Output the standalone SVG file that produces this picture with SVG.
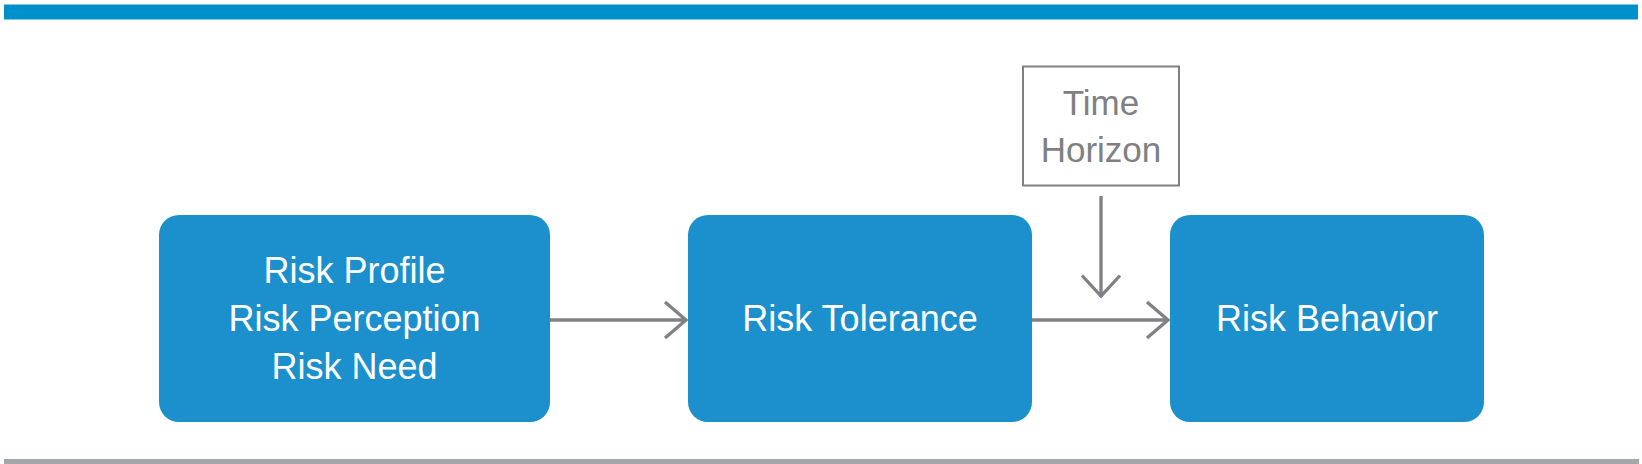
<svg xmlns="http://www.w3.org/2000/svg" width="1642" height="464" viewBox="0 0 1642 464">
  <defs>
    <style>
      .box { fill: #1b90cc; }
      .label { font-family: "Liberation Sans", Arial, sans-serif; font-size: 36px; fill: #ffffff; text-anchor: middle; }
      .side { font-family: "Liberation Sans", Arial, sans-serif; font-size: 35px; fill: #7f7f84; text-anchor: middle; }
      .conn { stroke: #808085; stroke-width: 3.3; fill: none; }
    </style>
  </defs>
  <rect x="0" y="0" width="1642" height="464" fill="#ffffff"/>
  <rect x="4" y="4.5" width="1634" height="15" fill="#0090cc"/>
  <rect x="4" y="459" width="1635" height="5" fill="#a2a8aa"/>

  <g id="node-profile">
    <rect class="box" x="159" y="215" width="391" height="207" rx="20" ry="20"/>
    <text class="label" x="354.5" y="283">Risk Profile</text>
    <text class="label" x="354.5" y="331">Risk Perception</text>
    <text class="label" x="354.5" y="379">Risk Need</text>
  </g>
  <g id="node-tolerance">
    <rect class="box" x="688" y="215" width="344" height="207" rx="20" ry="20"/>
    <text class="label" x="860" y="331">Risk Tolerance</text>
  </g>
  <g id="node-behavior">
    <rect class="box" x="1170" y="215" width="314" height="207" rx="20" ry="20"/>
    <text class="label" x="1327" y="331">Risk Behavior</text>
  </g>
  <g id="node-time">
    <rect x="1023" y="66.5" width="156" height="119" fill="#ffffff" stroke="#808085" stroke-width="2"/>
    <text class="side" x="1101" y="114.5">Time</text>
    <text class="side" x="1101" y="161.5">Horizon</text>
  </g>

  <g id="connectors">
    <line class="conn" x1="550" y1="320" x2="686" y2="320"/>
    <polyline class="conn" points="665,302 686,320 665,338"/>
    <line class="conn" x1="1032" y1="320" x2="1168" y2="320"/>
    <polyline class="conn" points="1147,302 1168,320 1147,338"/>
    <line class="conn" x1="1101" y1="196" x2="1101" y2="297"/>
    <polyline class="conn" points="1082,275.5 1101,296 1120,275.5"/>
  </g>
</svg>
